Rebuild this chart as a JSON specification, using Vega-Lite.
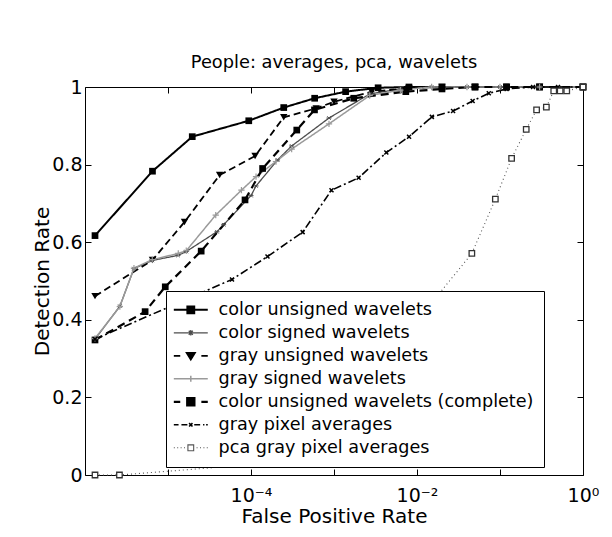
{
  "$schema": "https://vega.github.io/schema/vega-lite/v6.json",
  "width": 498,
  "height": 388,
  "autosize": {"type": "none"},
  "padding": {"left": 85, "top": 87, "right": 29, "bottom": 62},
  "background": "white",
  "title": {"text": "People: averages, pca, wavelets", "font": "DejaVu Sans", "fontSize": 17.8, "fontWeight": "normal", "color": "#000", "baseline": "alphabetic", "offset": 18, "dy": 26},
  "datasets": {
    "roc": [
      {"s": "color unsigned wavelets", "fpr": 1.32e-6, "dr": 0.617},
      {"s": "color unsigned wavelets", "fpr": 6.5e-6, "dr": 0.783},
      {"s": "color unsigned wavelets", "fpr": 1.96e-5, "dr": 0.872},
      {"s": "color unsigned wavelets", "fpr": 9.4e-5, "dr": 0.913},
      {"s": "color unsigned wavelets", "fpr": 2.48e-4, "dr": 0.947},
      {"s": "color unsigned wavelets", "fpr": 5.85e-4, "dr": 0.971},
      {"s": "color unsigned wavelets", "fpr": 1.38e-3, "dr": 0.988},
      {"s": "color unsigned wavelets", "fpr": 3.4e-3, "dr": 0.998},
      {"s": "color unsigned wavelets", "fpr": 8e-3, "dr": 1},
      {"s": "color unsigned wavelets", "fpr": 0.02, "dr": 1},
      {"s": "color unsigned wavelets", "fpr": 0.05, "dr": 1},
      {"s": "color unsigned wavelets", "fpr": 0.12, "dr": 1},
      {"s": "color unsigned wavelets", "fpr": 0.3, "dr": 1},
      {"s": "color unsigned wavelets", "fpr": 1, "dr": 1},
      {"s": "color signed wavelets", "fpr": 1.32e-6, "dr": 0.35},
      {"s": "color signed wavelets", "fpr": 2.63e-6, "dr": 0.435},
      {"s": "color signed wavelets", "fpr": 3.89e-6, "dr": 0.532},
      {"s": "color signed wavelets", "fpr": 6.46e-6, "dr": 0.553},
      {"s": "color signed wavelets", "fpr": 1.32e-5, "dr": 0.566},
      {"s": "color signed wavelets", "fpr": 1.66e-5, "dr": 0.576},
      {"s": "color signed wavelets", "fpr": 3.89e-5, "dr": 0.627},
      {"s": "color signed wavelets", "fpr": 4.68e-5, "dr": 0.645},
      {"s": "color signed wavelets", "fpr": 1e-4, "dr": 0.72},
      {"s": "color signed wavelets", "fpr": 1.15e-4, "dr": 0.745},
      {"s": "color signed wavelets", "fpr": 2.09e-4, "dr": 0.812},
      {"s": "color signed wavelets", "fpr": 3.09e-4, "dr": 0.848},
      {"s": "color signed wavelets", "fpr": 8.7e-4, "dr": 0.92},
      {"s": "color signed wavelets", "fpr": 2.69e-3, "dr": 0.982},
      {"s": "color signed wavelets", "fpr": 6.3e-3, "dr": 0.995},
      {"s": "color signed wavelets", "fpr": 0.015, "dr": 1},
      {"s": "color signed wavelets", "fpr": 0.04, "dr": 1},
      {"s": "color signed wavelets", "fpr": 0.1, "dr": 1},
      {"s": "color signed wavelets", "fpr": 0.3, "dr": 1},
      {"s": "color signed wavelets", "fpr": 1, "dr": 1},
      {"s": "gray unsigned wavelets", "fpr": 1.32e-6, "dr": 0.461},
      {"s": "gray unsigned wavelets", "fpr": 6.5e-6, "dr": 0.554},
      {"s": "gray unsigned wavelets", "fpr": 1.58e-5, "dr": 0.652},
      {"s": "gray unsigned wavelets", "fpr": 4.19e-5, "dr": 0.773},
      {"s": "gray unsigned wavelets", "fpr": 1.12e-4, "dr": 0.822},
      {"s": "gray unsigned wavelets", "fpr": 2.48e-4, "dr": 0.922},
      {"s": "gray unsigned wavelets", "fpr": 6.1e-4, "dr": 0.945},
      {"s": "gray unsigned wavelets", "fpr": 1e-3, "dr": 0.962},
      {"s": "gray unsigned wavelets", "fpr": 2.84e-3, "dr": 0.988},
      {"s": "gray unsigned wavelets", "fpr": 8e-3, "dr": 0.997},
      {"s": "gray unsigned wavelets", "fpr": 0.02, "dr": 1},
      {"s": "gray unsigned wavelets", "fpr": 0.05, "dr": 1},
      {"s": "gray unsigned wavelets", "fpr": 0.12, "dr": 1},
      {"s": "gray unsigned wavelets", "fpr": 0.3, "dr": 1},
      {"s": "gray unsigned wavelets", "fpr": 1, "dr": 1},
      {"s": "gray signed wavelets", "fpr": 1.32e-6, "dr": 0.352},
      {"s": "gray signed wavelets", "fpr": 2.63e-6, "dr": 0.434},
      {"s": "gray signed wavelets", "fpr": 3.89e-6, "dr": 0.533},
      {"s": "gray signed wavelets", "fpr": 6.46e-6, "dr": 0.555},
      {"s": "gray signed wavelets", "fpr": 1.33e-5, "dr": 0.571},
      {"s": "gray signed wavelets", "fpr": 1.66e-5, "dr": 0.578},
      {"s": "gray signed wavelets", "fpr": 3.76e-5, "dr": 0.67},
      {"s": "gray signed wavelets", "fpr": 7.67e-5, "dr": 0.734},
      {"s": "gray signed wavelets", "fpr": 1.15e-4, "dr": 0.769},
      {"s": "gray signed wavelets", "fpr": 2e-4, "dr": 0.808},
      {"s": "gray signed wavelets", "fpr": 3.09e-4, "dr": 0.84},
      {"s": "gray signed wavelets", "fpr": 8.7e-4, "dr": 0.905},
      {"s": "gray signed wavelets", "fpr": 2.69e-3, "dr": 0.978},
      {"s": "gray signed wavelets", "fpr": 6.3e-3, "dr": 0.992},
      {"s": "gray signed wavelets", "fpr": 0.015, "dr": 1},
      {"s": "gray signed wavelets", "fpr": 0.04, "dr": 1},
      {"s": "gray signed wavelets", "fpr": 0.1, "dr": 1},
      {"s": "gray signed wavelets", "fpr": 0.3, "dr": 1},
      {"s": "gray signed wavelets", "fpr": 1, "dr": 1},
      {"s": "color unsigned wavelets (complete)", "fpr": 1.32e-6, "dr": 0.348},
      {"s": "color unsigned wavelets (complete)", "fpr": 5.3e-6, "dr": 0.421},
      {"s": "color unsigned wavelets (complete)", "fpr": 9.27e-6, "dr": 0.485},
      {"s": "color unsigned wavelets (complete)", "fpr": 2.51e-5, "dr": 0.577},
      {"s": "color unsigned wavelets (complete)", "fpr": 8.47e-5, "dr": 0.709},
      {"s": "color unsigned wavelets (complete)", "fpr": 1.38e-4, "dr": 0.79},
      {"s": "color unsigned wavelets (complete)", "fpr": 3.56e-4, "dr": 0.889},
      {"s": "color unsigned wavelets (complete)", "fpr": 5.82e-4, "dr": 0.941},
      {"s": "color unsigned wavelets (complete)", "fpr": 1.73e-3, "dr": 0.971},
      {"s": "color unsigned wavelets (complete)", "fpr": 7.33e-3, "dr": 0.988},
      {"s": "color unsigned wavelets (complete)", "fpr": 0.02, "dr": 0.995},
      {"s": "color unsigned wavelets (complete)", "fpr": 0.05, "dr": 1},
      {"s": "color unsigned wavelets (complete)", "fpr": 0.12, "dr": 1},
      {"s": "color unsigned wavelets (complete)", "fpr": 0.3, "dr": 1},
      {"s": "color unsigned wavelets (complete)", "fpr": 1, "dr": 1},
      {"s": "gray pixel averages", "fpr": 1.32e-6, "dr": 0.35},
      {"s": "gray pixel averages", "fpr": 5.9e-5, "dr": 0.504},
      {"s": "gray pixel averages", "fpr": 1.58e-4, "dr": 0.563},
      {"s": "gray pixel averages", "fpr": 4.19e-4, "dr": 0.626},
      {"s": "gray pixel averages", "fpr": 9.33e-4, "dr": 0.734},
      {"s": "gray pixel averages", "fpr": 1.98e-3, "dr": 0.766},
      {"s": "gray pixel averages", "fpr": 4.27e-3, "dr": 0.831},
      {"s": "gray pixel averages", "fpr": 8.02e-3, "dr": 0.872},
      {"s": "gray pixel averages", "fpr": 0.0151, "dr": 0.923},
      {"s": "gray pixel averages", "fpr": 0.0272, "dr": 0.938},
      {"s": "gray pixel averages", "fpr": 0.0468, "dr": 0.964},
      {"s": "gray pixel averages", "fpr": 0.0733, "dr": 0.984},
      {"s": "gray pixel averages", "fpr": 0.12, "dr": 0.995},
      {"s": "gray pixel averages", "fpr": 0.25, "dr": 1},
      {"s": "gray pixel averages", "fpr": 0.5, "dr": 1},
      {"s": "gray pixel averages", "fpr": 1, "dr": 1},
      {"s": "pca gray pixel averages", "fpr": 1.32e-6, "dr": 0},
      {"s": "pca gray pixel averages", "fpr": 2.6e-6, "dr": 0},
      {"s": "pca gray pixel averages", "fpr": 4.27e-4, "dr": 0.037},
      {"s": "pca gray pixel averages", "fpr": 0.0458, "dr": 0.571},
      {"s": "pca gray pixel averages", "fpr": 0.0879, "dr": 0.711},
      {"s": "pca gray pixel averages", "fpr": 0.138, "dr": 0.816},
      {"s": "pca gray pixel averages", "fpr": 0.207, "dr": 0.891},
      {"s": "pca gray pixel averages", "fpr": 0.276, "dr": 0.941},
      {"s": "pca gray pixel averages", "fpr": 0.362, "dr": 0.948},
      {"s": "pca gray pixel averages", "fpr": 0.444, "dr": 0.99},
      {"s": "pca gray pixel averages", "fpr": 0.531, "dr": 0.99},
      {"s": "pca gray pixel averages", "fpr": 0.637, "dr": 0.99},
      {"s": "pca gray pixel averages", "fpr": 1, "dr": 1}
    ]
  },
  "data": {"name": "roc"},
  "layer": [
    {
      "mark": {"type": "line"},
      "encoding": {
        "x": {
          "field": "fpr", "type": "quantitative",
          "scale": {"type": "log", "domain": [1.32e-6, 1]},
          "axis": {
            "orient": "bottom", "values": [1e-5, 1e-4, 1e-3, 1e-2, 1e-1, 1],
            "labelExpr": "datum.value > 5e-5 && datum.value < 5e-4 ? '10⁻⁴' : (datum.value > 5e-3 && datum.value < 5e-2 ? '10⁻²' : (datum.value > 0.5 ? '10⁰' : ''))",
            "labelOverlap": false, "labelFlush": false,
            "title": "False Positive Rate", "tickSize": -6, "labelPadding": 17, "titlePadding": 1,
            "domain": false, "grid": false
          }
        },
        "y": {
          "field": "dr", "type": "quantitative",
          "scale": {"domain": [0, 1]},
          "axis": {
            "orient": "left", "values": [0, 0.2, 0.4, 0.6, 0.8, 1], "format": ".1~f",
            "labelFlush": false, "labelOverlap": false,
            "title": "Detection Rate", "tickSize": -6, "labelPadding": 9, "titlePadding": -1,
            "domain": false, "grid": false
          }
        },
        "stroke": {"field": "s", "type": "nominal", "legend": null,
          "scale": {"domain": ["color unsigned wavelets", "color signed wavelets", "gray unsigned wavelets", "gray signed wavelets", "color unsigned wavelets (complete)", "gray pixel averages", "pca gray pixel averages"],
                    "range": ["#000000", "#4d4d4d", "#000000", "#9a9a9a", "#000000", "#000000", "#555555"]}},
        "strokeDash": {"field": "s", "type": "nominal", "legend": null,
          "scale": {"domain": ["color unsigned wavelets", "color signed wavelets", "gray unsigned wavelets", "gray signed wavelets", "color unsigned wavelets (complete)", "gray pixel averages", "pca gray pixel averages"],
                    "range": [[1, 0], [1, 0], [7, 4], [1, 0], [8, 5], [8, 3, 2, 3], [1, 3]]}},
        "strokeWidth": {"field": "s", "type": "nominal", "legend": null,
          "scale": {"type": "ordinal", "domain": ["color unsigned wavelets", "color signed wavelets", "gray unsigned wavelets", "gray signed wavelets", "color unsigned wavelets (complete)", "gray pixel averages", "pca gray pixel averages"],
                    "range": [2, 1.3, 1.8, 1.5, 2.2, 1.6, 1.1]}}
      }
    },
    {
      "transform": [{"filter": {"field": "s", "oneOf": ["color unsigned wavelets", "color unsigned wavelets (complete)"]}}],
      "mark": {"type": "point", "shape": "square", "filled": true, "size": 45, "opacity": 1},
      "encoding": {
        "x": {"field": "fpr", "type": "quantitative", "axis": null},
        "y": {"field": "dr", "type": "quantitative", "axis": null},
        "fill": {"value": "#000000"}
      }
    },
    {
      "transform": [{"filter": {"field": "s", "equal": "gray unsigned wavelets"}}],
      "mark": {"type": "point", "shape": "triangle-down", "filled": true, "size": 55, "opacity": 1},
      "encoding": {
        "x": {"field": "fpr", "type": "quantitative", "axis": null},
        "y": {"field": "dr", "type": "quantitative", "axis": null},
        "fill": {"value": "#000000"}
      }
    },
    {
      "transform": [{"filter": {"field": "s", "equal": "color signed wavelets"}}],
      "mark": {"type": "point", "shape": "M-1,0H1M-0.7,-0.7L0.7,0.7M-0.7,0.7L0.7,-0.7", "filled": false, "size": 25, "strokeWidth": 1, "opacity": 1},
      "encoding": {
        "x": {"field": "fpr", "type": "quantitative", "axis": null},
        "y": {"field": "dr", "type": "quantitative", "axis": null},
        "stroke": {"value": "#4d4d4d"}
      }
    },
    {
      "transform": [{"filter": {"field": "s", "equal": "gray signed wavelets"}}],
      "mark": {"type": "point", "shape": "M-1,0H1M0,-1V1", "filled": false, "size": 40, "strokeWidth": 1.2, "opacity": 1},
      "encoding": {
        "x": {"field": "fpr", "type": "quantitative", "axis": null},
        "y": {"field": "dr", "type": "quantitative", "axis": null},
        "stroke": {"value": "#9a9a9a"}
      }
    },
    {
      "transform": [{"filter": {"field": "s", "equal": "gray pixel averages"}}],
      "mark": {"type": "point", "shape": "M-1,-1L1,1M-1,1L1,-1", "filled": false, "size": 16, "strokeWidth": 1.5, "opacity": 1},
      "encoding": {
        "x": {"field": "fpr", "type": "quantitative", "axis": null},
        "y": {"field": "dr", "type": "quantitative", "axis": null},
        "stroke": {"value": "#000000"}
      }
    },
    {
      "transform": [{"filter": {"field": "s", "equal": "pca gray pixel averages"}}],
      "mark": {"type": "point", "shape": "square", "filled": false, "size": 30, "strokeWidth": 1.3, "fill": "#ffffff", "opacity": 1},
      "encoding": {
        "x": {"field": "fpr", "type": "quantitative", "axis": null},
        "y": {"field": "dr", "type": "quantitative", "axis": null},
        "stroke": {"value": "#333333"}
      }
    },
    {
      "transform": [{"filter": "false"}],
      "mark": {"type": "point", "filled": true, "size": 144, "opacity": 1},
      "encoding": {
        "x": {"field": "fpr", "type": "quantitative",
          "axis": {"orient": "top", "values": [1e-5, 1e-4, 1e-3, 1e-2, 1e-1, 1], "labels": false, "title": null, "tickSize": -6, "domain": false, "grid": false, "minExtent": 0, "maxExtent": 0}},
        "y": {"field": "dr", "type": "quantitative",
          "axis": {"orient": "right", "values": [0, 0.2, 0.4, 0.6, 0.8, 1], "labels": false, "title": null, "tickSize": -6, "domain": false, "grid": false, "minExtent": 0, "maxExtent": 0}},
        "stroke": {"field": "s", "type": "nominal",
          "scale": {"domain": ["color unsigned wavelets", "color signed wavelets", "gray unsigned wavelets", "gray signed wavelets", "color unsigned wavelets (complete)", "gray pixel averages", "pca gray pixel averages"],
                    "range": ["#000000", "#4d4d4d", "#000000", "#9a9a9a", "#000000", "#000000", "#555555"]},
          "legend": {"orient": "none", "legendX": 81, "legendY": 204, "title": null, "padding": 10,
                     "strokeColor": "#000000", "fillColor": "#ffffff", "labelFont": "DejaVu Sans", "labelFontSize": 17.6,
                     "labelColor": "#000000", "labelOffset": 19, "symbolOffset": 6, "rowPadding": 4, "symbolSize": 144, "symbolOpacity": 1, "labelLimit": 0,
                     "encode": {"symbols": {"update": {"opacity": {"value": 1}, "fillOpacity": {"value": 1}, "strokeOpacity": {"value": 1}}}}}},
        "fill": {"field": "s", "type": "nominal", "legend": {"title": null, "orient": "none"},
          "scale": {"domain": ["color unsigned wavelets", "color signed wavelets", "gray unsigned wavelets", "gray signed wavelets", "color unsigned wavelets (complete)", "gray pixel averages", "pca gray pixel averages"],
                    "range": ["#000000", "#4d4d4d", "#000000", "#9a9a9a", "#000000", "#000000", "#ffffff"]}},
        "strokeWidth": {"field": "s", "type": "nominal", "legend": {"title": null, "orient": "none"},
          "scale": {"type": "ordinal", "domain": ["color unsigned wavelets", "color signed wavelets", "gray unsigned wavelets", "gray signed wavelets", "color unsigned wavelets (complete)", "gray pixel averages", "pca gray pixel averages"],
                    "range": [2, 1.3, 1.8, 1.5, 2.2, 1.6, 1.1]}},
        "shape": {"field": "s", "type": "nominal", "legend": {"title": null, "orient": "none"},
          "scale": {"domain": ["color unsigned wavelets", "color signed wavelets", "gray unsigned wavelets", "gray signed wavelets", "color unsigned wavelets (complete)", "gray pixel averages", "pca gray pixel averages"],
                    "range": [
                      "M-2.83,0H2.83M-0.57,-0.57H0.57V0.57H-0.57Z",
                      "M-2.83,0H2.83M-0.34,-0.34L0.34,0.34M-0.34,0.34L0.34,-0.34M0,-0.45V0.45",
                      "M-2.83,0H-1.76M1.76,0H2.83M-0.68,-0.48H0.68L0,0.62Z",
                      "M-2.83,0H2.83M0,-0.51V0.51",
                      "M-2.83,0H-1.76M1.76,0H2.83M-0.6,-0.6H0.6V0.6H-0.6Z",
                      "M-2.83,0H-2.04M-1.56,0H-0.57M0.57,0H1.56M2.04,0H2.27M2.55,0H2.83M-0.28,-0.28L0.28,0.28M-0.28,0.28L0.28,-0.28",
                      "M-2.83,0H-2.66M-2.27,0H-2.1M-1.7,0H-1.53M-1.13,0H-0.96M0.96,0H1.13M1.53,0H1.7M2.1,0H2.27M2.66,0H2.83M-0.48,-0.48H0.48V0.48H-0.48Z"
                    ]}}
      }
    }
  ],
  "resolve": {
    "axis": {"x": "independent", "y": "independent"},
    "legend": {"stroke": "independent", "strokeDash": "independent", "strokeWidth": "independent", "fill": "independent", "shape": "independent"}
  },
  "config": {
    "view": {"stroke": "#000000", "strokeWidth": 1},
    "axis": {
      "labelFont": "DejaVu Sans", "labelFontSize": 19, "labelColor": "#000000",
      "titleFont": "DejaVu Sans", "titleFontSize": 20, "titleFontWeight": "normal", "titleColor": "#000000",
      "tickColor": "#000000", "tickWidth": 1
    }
  }
}
